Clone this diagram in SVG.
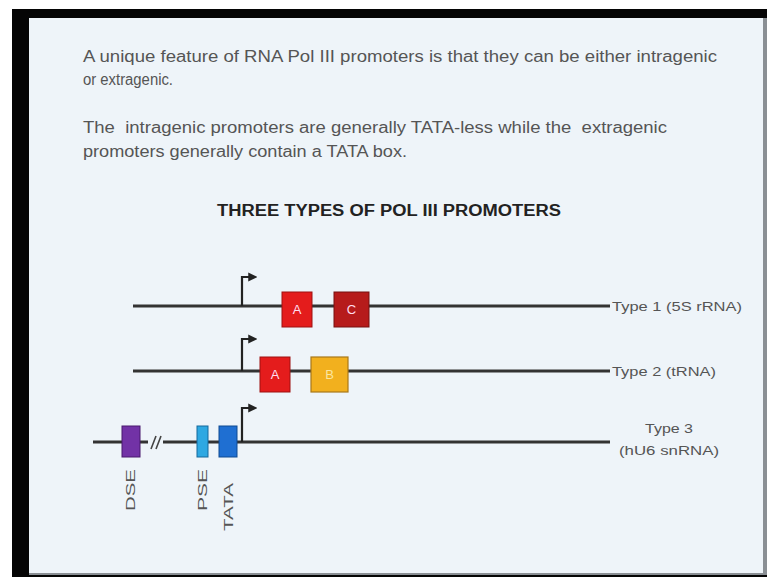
<svg xmlns="http://www.w3.org/2000/svg" width="767" height="577" viewBox="0 0 767 577">
  <defs>
    <style>
      .body { font-family: "Liberation Sans", Arial, sans-serif; font-size: 16px; fill: #555; }
      .head { font-family: "Liberation Sans", Arial, sans-serif; font-size: 16px; font-weight: bold; fill: #222; }
      .lbl { font-family: "Liberation Sans", Arial, sans-serif; font-size: 13px; fill: #555; }
      .box-txt { font-family: "Liberation Sans", Arial, sans-serif; font-size: 13px; fill: #fde; text-anchor: middle; }
      .dna { stroke: #333; stroke-width: 3; fill: none; }
      .tss { stroke: #222; stroke-width: 2.2; fill: none; }
    </style>
    <marker id="tip" viewBox="0 0 10 10" refX="3" refY="5" markerWidth="4.2" markerHeight="4.2" orient="auto" markerUnits="strokeWidth">
      <path d="M0,0 L10,5 L0,10 Z" fill="#222"/>
    </marker>
  </defs>

  <!-- screen frame -->
  <rect x="0" y="0" width="767" height="577" fill="#ffffff"/>
  <rect x="12" y="9" width="755" height="568" fill="#050505"/>
  <rect x="29" y="18" width="738" height="557" fill="#8a8f94"/>
  <rect x="29" y="18" width="734" height="555" fill="#eef4f9"/>

  <!-- slide text -->
  <g id="intro">
    <text class="body" x="83" y="62" textLength="634" lengthAdjust="spacingAndGlyphs">A unique feature of RNA Pol III promoters is that they can be either intragenic</text>
    <text class="body" x="83" y="85" textLength="90" lengthAdjust="spacingAndGlyphs">or extragenic.</text>
    <text class="body" x="83" y="133" textLength="584" lengthAdjust="spacingAndGlyphs" xml:space="preserve">The  intragenic promoters are generally TATA-less while the  extragenic</text>
    <text class="body" x="83" y="157" textLength="324" lengthAdjust="spacingAndGlyphs">promoters generally contain a TATA box.</text>
  </g>
  <g id="title">
    <text class="head" x="217" y="216" textLength="344" lengthAdjust="spacingAndGlyphs">THREE TYPES OF POL III PROMOTERS</text>
  </g>

  <!-- DNA lines and start-site arrows -->
  <g id="connectors">
    <line class="dna" x1="133" y1="306" x2="610" y2="306"/>
    <line class="dna" x1="133" y1="371" x2="610" y2="371"/>
    <line class="dna" x1="93" y1="442" x2="148" y2="442"/>
    <line class="dna" x1="163" y1="442" x2="610" y2="442"/>
    <path class="tss" d="M242,306 V277 H251" marker-end="url(#tip)"/>
    <path class="tss" d="M242,371 V339 H251" marker-end="url(#tip)"/>
    <path class="tss" d="M242,442 V408 H251" marker-end="url(#tip)"/>
    <!-- break mark -->
    <path d="M151,449 L156,436 M156,449 L161,436" stroke="#444" stroke-width="1.6" fill="none"/>
  </g>

  <!-- Type 1 -->
  <g id="type1">
    <rect x="282" y="292" width="30" height="35" fill="#e41c1c" stroke="#9e1010" stroke-width="1"/>
    <text class="box-txt" x="297" y="314">A</text>
    <rect x="334" y="292" width="35" height="35" fill="#b61b1b" stroke="#761010" stroke-width="1"/>
    <text class="box-txt" x="351.5" y="314">C</text>
    <text class="lbl" x="612" y="311" textLength="130" lengthAdjust="spacingAndGlyphs">Type 1 (5S rRNA)</text>
  </g>

  <!-- Type 2 -->
  <g id="type2">
    <rect x="260" y="357" width="30" height="35" fill="#e41c1c" stroke="#9e1010" stroke-width="1"/>
    <text class="box-txt" x="275" y="379">A</text>
    <rect x="311" y="357" width="37" height="35" fill="#f2b01e" stroke="#a8781a" stroke-width="1.2"/>
    <text class="box-txt" x="329.5" y="379" style="fill:#fbe6a0">B</text>
    <text class="lbl" x="612" y="376" textLength="104" lengthAdjust="spacingAndGlyphs">Type 2 (tRNA)</text>
  </g>

  <!-- Type 3 -->
  <g id="type3">
    <rect x="122" y="426" width="18" height="31" fill="#7232a6" stroke="#48186e" stroke-width="1"/>
    <rect x="197" y="426" width="11" height="31" fill="#2ea8e2" stroke="#15699c" stroke-width="1"/>
    <rect x="219" y="426" width="18" height="31" fill="#1f6fd2" stroke="#0f4a92" stroke-width="1"/>
    <text class="lbl" x="669" y="433" text-anchor="middle" textLength="48" lengthAdjust="spacingAndGlyphs">Type 3</text>
    <text class="lbl" x="669" y="455" text-anchor="middle" textLength="100" lengthAdjust="spacingAndGlyphs">(hU6 snRNA)</text>
    <text class="lbl" transform="translate(135,511) rotate(-90)" textLength="42" lengthAdjust="spacingAndGlyphs">DSE</text>
    <text class="lbl" transform="translate(207,511) rotate(-90)" textLength="42" lengthAdjust="spacingAndGlyphs">PSE</text>
    <text class="lbl" transform="translate(233,531) rotate(-90)" textLength="48" lengthAdjust="spacingAndGlyphs">TATA</text>
  </g>
</svg>
